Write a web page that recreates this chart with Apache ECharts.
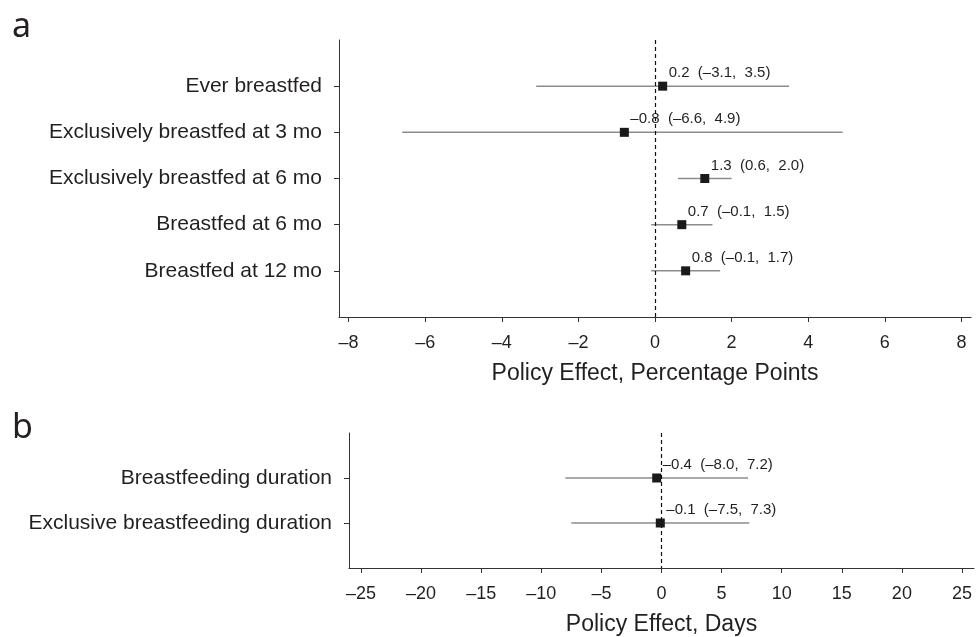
<!DOCTYPE html>
<html>
<head>
<meta charset="utf-8">
<script src="https://cdn.jsdelivr.net/npm/echarts@6/dist/echarts.min.js"></script>
<style>
  html, body { margin: 0; padding: 0; background: #fff; }
  #paint { width: 978px; height: 637px; }
</style>
</head>
<body>
<div id="paint"></div>
<script>
// panel a: percentage points
var labelsA = ['Ever breastfed', 'Exclusively breastfed at 3 mo', 'Exclusively breastfed at 6 mo', 'Breastfed at 6 mo', 'Breastfed at 12 mo'];
var estA = [0.2, -0.8, 1.3, 0.7, 0.8];
var lowA = [-3.1, -6.6, 0.6, -0.1, -0.1];
var highA = [3.5, 4.9, 2.0, 1.5, 1.7];
var ticksA = [-8, -6, -4, -2, 0, 2, 4, 6, 8];

// panel b: days
var labelsB = ['Breastfeeding duration', 'Exclusive breastfeeding duration'];
var estB = [-0.4, -0.1];
var lowB = [-8.0, -7.5];
var highB = [7.2, 7.3];
var ticksB = [-25, -20, -15, -10, -5, 0, 5, 10, 15, 20, 25];

var FONT = '"Liberation Sans", Arial, Helvetica, sans-serif';
var TXT = '#231f20';

function dash(v){
    return v < 0 ? '\u2013' + Math.abs(v) : '' + v;
}
function fmt(v){
    var s = Math.abs(v).toFixed(1);
    return v < 0 ? '\u2013' + s : s;
}

function rows(n){
    var r = [];
    for(var i = 1; i <= n; i++) r.push(i);
    return r;
}

function xAxisOf(idx, lo, hi, ticks, name){
    return {
        type: 'value', gridIndex: idx, min: lo, max: hi, position: 'bottom',
        name: name, nameLocation: 'middle', nameGap: 45,
        nameTextStyle: { fontSize: 23, color: TXT, fontFamily: FONT },
        axisLine: { show: true, onZero: false, lineStyle: { color: '#333', width: 1 } },
        axisTick: { show: true, length: 5, customValues: ticks, lineStyle: { color: '#333' } },
        axisLabel: { customValues: ticks, margin: 17, fontSize: 18, color: TXT, fontFamily: FONT, formatter: dash },
        splitLine: { show: false }
    };
}

function yAxisOf(idx, labels){
    var r = rows(labels.length);
    return {
        type: 'value', gridIndex: idx, inverse: true, min: 0, max: labels.length + 1, position: 'left',
        axisLine: { show: true, onZero: false, lineStyle: { color: '#333', width: 1 } },
        axisTick: { show: true, length: 5, customValues: r, lineStyle: { color: '#333' } },
        axisLabel: {
            customValues: r, margin: 17, fontSize: 21, color: TXT, fontFamily: FONT,
            formatter: function(v){ return labels[v - 1] || ''; }
        },
        splitLine: { show: false }
    };
}

function seriesOf(idx, est, low, high){
    var bars = [], pts = [];
    for(var i = 0; i < est.length; i++){
        bars.push([low[i], high[i], i + 1]);
        pts.push([est[i], i + 1, low[i], high[i]]);
    }
    return [{
        type: 'custom', xAxisIndex: idx, yAxisIndex: idx, z: 1,
        data: bars,
        renderItem: function(params, api){
            var s = api.coord([api.value(0), api.value(2)]);
            var e = api.coord([api.value(1), api.value(2)]);
            return {
                type: 'line',
                shape: { x1: s[0], y1: s[1], x2: e[0], y2: e[1] },
                style: { stroke: '#8c8c8c', lineWidth: 1.5 }
            };
        },
        markLine: {
            silent: true, symbol: ['none', 'none'], label: { show: false },
            lineStyle: { color: '#111', width: 1.2, type: [4, 3] },
            data: [{ xAxis: 0 }]
        }
    }, {
        type: 'scatter', xAxisIndex: idx, yAxisIndex: idx, z: 3,
        symbol: 'rect', symbolSize: 9,
        itemStyle: { color: '#1a1a1a', opacity: 1 },
        data: pts,
        label: {
            show: true, position: [10.5, -8.5], align: 'left', verticalAlign: 'middle',
            fontSize: 15, color: TXT, fontFamily: FONT,
            formatter: function(p){
                var d = p.data;
                return fmt(d[0]) + '  (' + fmt(d[2]) + ',  ' + fmt(d[3]) + ')';
            }
        }
    }];
}

var chart = echarts.init(document.getElementById('paint'));

var option = {
    animation: false,
    backgroundColor: '#fff',
    grid: [
        { left: 339, top: 40, width: 632, height: 277 },
        { left: 349, top: 433, width: 625, height: 136 }
    ],
    xAxis: [
        xAxisOf(0, -8.25, 8.25, ticksA, 'Policy Effect, Percentage Points'),
        xAxisOf(1, -26, 26, ticksB, 'Policy Effect, Days')
    ],
    yAxis: [
        yAxisOf(0, labelsA),
        yAxisOf(1, labelsB)
    ],
    graphic: [
        { type: 'text', left: 12, top: 10, style: { text: 'a', fontSize: 34, fill: TXT, fontFamily: '"Noto Sans", sans-serif' } },
        { type: 'text', left: 12, top: 411, style: { text: 'b', fontSize: 34, fill: TXT, fontFamily: '"Noto Sans", sans-serif' } }
    ],
    series: seriesOf(0, estA, lowA, highA).concat(seriesOf(1, estB, lowB, highB))
};

chart.setOption(option);
</script>
</body>
</html>
